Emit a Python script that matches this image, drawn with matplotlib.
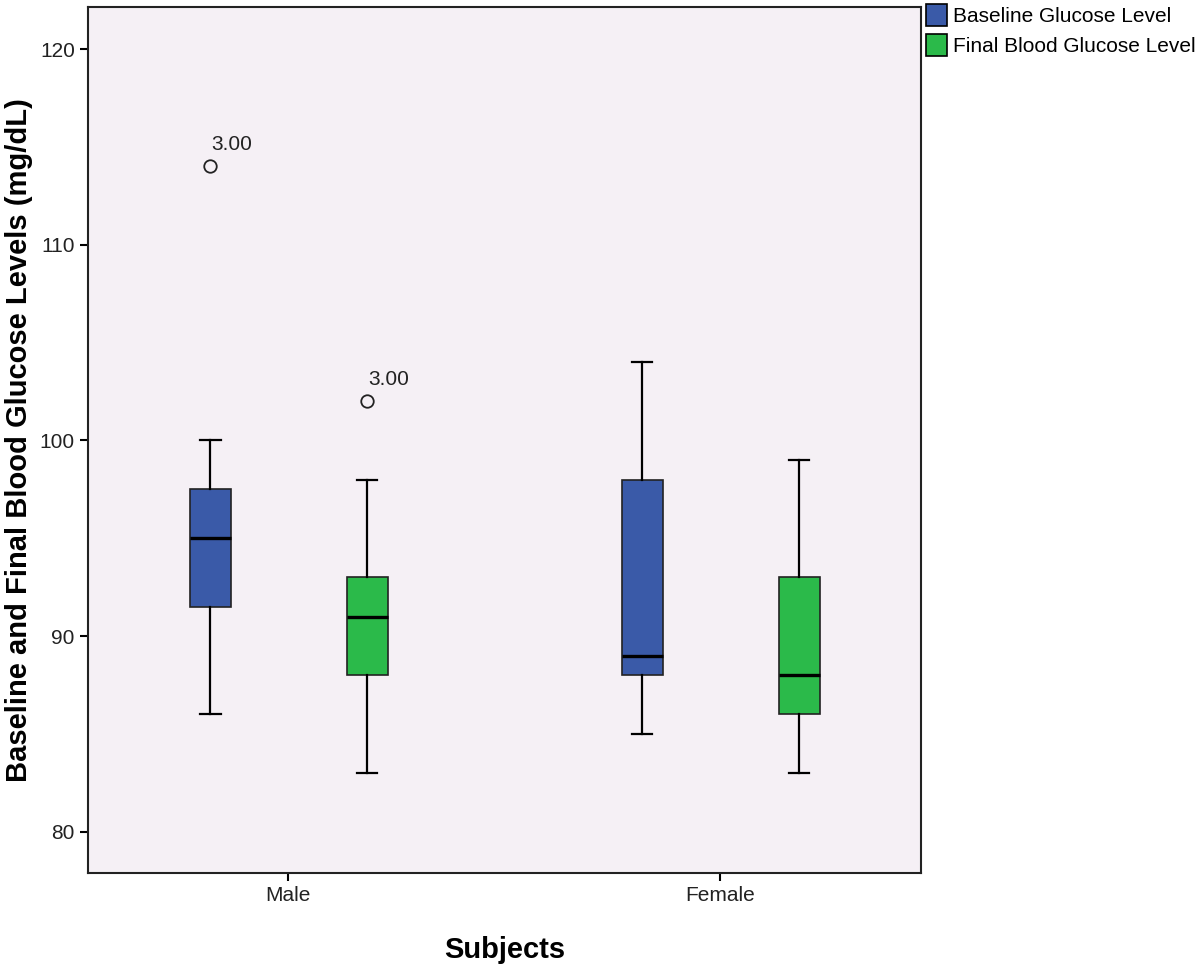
import numpy as np
import matplotlib.pyplot as plt
from matplotlib.patches import Patch

plt.rcParams['font.family'] = ['Liberation Sans', 'DejaVu Sans']

# Datos
sexos = ['Male', 'Female']
series = ['Baseline Glucose Level', 'Final Blood Glucose Level']
colores = ['#3a5aa8', '#2bba4a']

# [Male, Female] para cada serie
bajo = [[86, 85], [83, 83]]
q1 = [[91.5, 88], [88, 86]]
mediana = [[95, 89], [91, 88]]
q3 = [[97.5, 98], [93, 93]]
alto = [[100, 104], [98, 99]]
atipicos = [[[114], []], [[102], []]]
etiqueta_atipico = '3.00'

fig = plt.figure(figsize=(11.99, 9.72), dpi=100)
ax = fig.add_axes([0.0734, 0.1019, 0.768 - 0.0734, 0.9928 - 0.1019])
ax.set_facecolor('#f5f0f5')

desplaz = [-0.18, 0.183]
ancho = 0.095
for s in range(len(series)):
    stats = []
    for g in range(len(sexos)):
        stats.append(dict(whislo=bajo[s][g], q1=q1[s][g], med=mediana[s][g],
                          q3=q3[s][g], whishi=alto[s][g], fliers=atipicos[s][g]))
    pos = np.arange(len(sexos)) + desplaz[s]
    ax.bxp(stats, positions=pos, widths=ancho, patch_artist=True,
           boxprops=dict(facecolor=colores[s], edgecolor='#222222', linewidth=1.2),
           medianprops=dict(color='black', linewidth=2.4),
           whiskerprops=dict(color='black', linewidth=1.6),
           capprops=dict(color='black', linewidth=1.6),
           capwidths=ancho / 2,
           flierprops=dict(marker='o', markersize=9, markerfacecolor='none',
                           markeredgecolor='#222222', markeredgewidth=1.3))
    for g in range(len(sexos)):
        for v in atipicos[s][g]:
            ax.annotate(etiqueta_atipico, (pos[g], v), xytext=(1, 12),
                        textcoords='offset points', fontsize=15, color='#222222')

ax.set_xlim(-0.463, 1.465)
ax.set_ylim(77.9, 122.15)
ax.set_xticks(range(len(sexos)))
ax.set_xticklabels(sexos)
ax.set_yticks([80, 90, 100, 110, 120])
ax.tick_params(axis='both', labelsize=15, length=6, width=1.5, colors='black',
               labelcolor='#222222', direction='out')
for sp in ax.spines.values():
    sp.set_linewidth(1.5)
    sp.set_color('#222222')

ax.set_xlabel('Subjects', fontsize=21, fontweight='bold', labelpad=22)
ax.set_ylabel('Baseline and Final Blood Glucose Levels (mg/dL)', fontsize=21,
              fontweight='bold', labelpad=5)

handles = [Patch(facecolor=colores[i], edgecolor='black', linewidth=1.2, label=series[i])
           for i in range(len(series))]
fig.legend(handles=handles, loc='upper left', bbox_to_anchor=(926 / 1199, 1 - 4 / 972),
           frameon=False, fontsize=15, handlelength=1.0, handleheight=1.25,
           handletextpad=0.3, borderpad=0, borderaxespad=0, labelspacing=0.4)

fig.savefig('out.png', dpi=100)
